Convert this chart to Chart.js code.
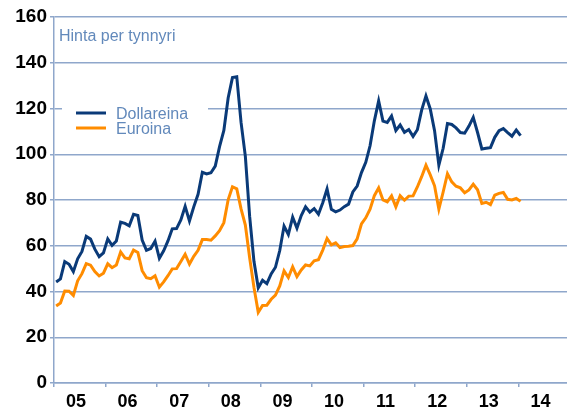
<!DOCTYPE html>
<html>
<head>
<meta charset="utf-8">
<script src="https://cdn.jsdelivr.net/npm/chart.js@4.4.0/dist/chart.umd.min.js"></script>
<style>
  html, body { margin: 0; padding: 0; background: #fff; }
  #wrap { width: 567px; height: 410px; }
</style>
</head>
<body>
<div id="wrap"><canvas id="chart"></canvas></div>
<script>
// year labels under the x axis (one per 12 months)
const yearLabels = ["05", "06", "07", "08", "09", "10", "11", "12", "13", "14"];

// monthly oil price, Jan 2005 .. Jan 2014
const dollars = [
  44.2, 45.5, 53.1, 51.9, 48.7, 54.3, 57.5, 64.1, 62.9, 58.5, 55.2, 56.9,
  63.0, 60.2, 62.1, 70.3, 69.8, 68.7, 73.7, 73.2, 62.5, 58.0, 58.8, 62.0,
  54.5, 57.8, 62.1, 67.4, 67.5, 71.3, 77.2, 70.8, 77.0, 82.5, 92.1, 91.4,
  91.9, 94.8, 103.3, 110.4, 124.6, 133.5, 133.9, 113.9, 99.1, 72.8, 53.2, 41.6,
  44.9, 43.4, 47.7, 50.6, 57.9, 68.6, 64.9, 72.5, 67.7, 73.2, 77.0, 74.7,
  76.2, 73.8, 78.8, 84.8, 75.9, 74.8, 75.6, 77.1, 78.2, 83.5, 86.1, 92.0,
  96.5, 103.7, 114.6, 123.3, 114.5, 113.9, 116.7, 110.4, 112.8, 109.6, 110.8, 107.8,
  110.7, 119.3, 125.5, 119.8, 110.3, 95.2, 102.6, 113.4, 113.0, 111.5, 109.5, 109.2,
  112.3, 116.1, 109.5, 102.3, 102.6, 102.9, 107.4, 110.3, 111.2, 109.5, 107.9, 110.6,
  108.1
];
const euros = [
  33.7, 35.0, 40.2, 40.1, 38.3, 44.7, 47.8, 52.2, 51.5, 48.7, 46.8, 48.0,
  52.1, 50.4, 51.6, 57.3, 54.7, 54.3, 58.1, 57.1, 49.1, 46.0, 45.6, 46.9,
  41.9, 44.2, 46.9, 49.9, 50.0, 53.1, 56.3, 52.0, 55.4, 58.0, 62.7, 62.7,
  62.4, 64.3, 66.6, 70.1, 80.1, 85.8, 84.9, 76.1, 69.0, 54.7, 41.8, 30.9,
  33.9, 34.0, 36.6, 38.4, 42.4, 49.0, 46.1, 50.8, 46.5, 49.4, 51.6, 51.2,
  53.4, 53.9, 58.1, 63.2, 60.4, 61.3, 59.2, 59.7, 59.8, 60.1, 63.0, 69.6,
  72.2, 76.0, 81.9, 85.3, 80.0, 79.2, 81.8, 77.0, 81.9, 79.9, 81.7, 81.8,
  85.7, 90.2, 95.2, 91.0, 86.2, 76.0, 83.5, 91.5, 87.9, 86.0, 85.3, 83.2,
  84.4, 86.9, 84.5, 78.5, 79.0, 78.0, 82.1, 82.9, 83.3, 80.3, 80.0, 80.7,
  79.4
];

const seriesNames = ["Dollareina", "Euroina"];
const seriesColors = ["#0a3a78", "#ff8c00"];
const titleText = "Hinta per tynnyri";

const gridColor = "#8fa7cb";
const textBlue = "#6289bb";

const toPoints = arr => arr.map((v, i) => ({ x: i + 0.5, y: v }));

const overlay = {
  id: "overlay",
  afterDatasetsDraw(chart) {
    const ctx = chart.ctx;
    ctx.save();
    // white legend box over the grid
    ctx.fillStyle = "#fff";
    ctx.fillRect(62, 101, 146, 36);
    ctx.lineWidth = 3;
    ctx.font = "16px 'Liberation Sans', Arial, sans-serif";
    ctx.textBaseline = "alphabetic";
    seriesNames.forEach((name, i) => {
      const y = 113 + i * 15;
      ctx.strokeStyle = seriesColors[i];
      ctx.beginPath();
      ctx.moveTo(76, y);
      ctx.lineTo(106, y);
      ctx.stroke();
      ctx.fillStyle = textBlue;
      ctx.fillText(name, 116, y + 5.5);
    });
    ctx.font = "16px 'Liberation Sans', Arial, sans-serif";
    ctx.fillStyle = textBlue;
    ctx.fillText(titleText, 59, 41);
    ctx.restore();
  }
};

new Chart(document.getElementById("chart"), {
  type: "line",
  data: {
    datasets: [
      {
        label: seriesNames[1],
        data: toPoints(euros),
        borderColor: seriesColors[1],
        borderWidth: 3,
        pointRadius: 0,
        tension: 0
      },
      {
        label: seriesNames[0],
        data: toPoints(dollars),
        borderColor: seriesColors[0],
        borderWidth: 3,
        pointRadius: 0,
        tension: 0
      }
    ]
  },
  options: {
    responsive: true,
    maintainAspectRatio: false,
    animation: false,
    layout: { padding: { top: 17, right: 0, left: 0, bottom: 0 } },
    plugins: {
      legend: { display: false },
      tooltip: { enabled: false }
    },
    scales: {
      x: {
        type: "linear",
        min: 0,
        max: 119.3,
        afterBuildTicks(scale) {
          scale.ticks = yearLabels.map((_, i) => ({ value: i * 12 }));
        },
        afterFit(scale) { scale.height = 27; },
        ticks: {
          autoSkip: false,
          maxRotation: 0,
          labelOffset: 22,
          padding: 4,
          color: "#000",
          font: { family: "'Liberation Sans', Arial, sans-serif", size: 18, weight: "bold" },
          callback: value => yearLabels[Math.round(value / 12)]
        },
        grid: {
          drawOnChartArea: false,
          tickLength: 4,
          color: gridColor,
          lineWidth: 1.5
        },
        border: { display: true, color: gridColor, width: 1.5 }
      },
      y: {
        min: 0,
        max: 160,
        afterFit(scale) { scale.width = 54; },
        ticks: {
          stepSize: 20,
          padding: 3,
          color: "#000",
          font: { family: "'Liberation Sans', Arial, sans-serif", size: 19, weight: "bold" }
        },
        grid: {
          color: gridColor,
          lineWidth: 1.5,
          tickLength: 4
        },
        border: { display: true, color: gridColor, width: 1.5 }
      }
    }
  },
  plugins: [overlay]
});
</script>
</body>
</html>
